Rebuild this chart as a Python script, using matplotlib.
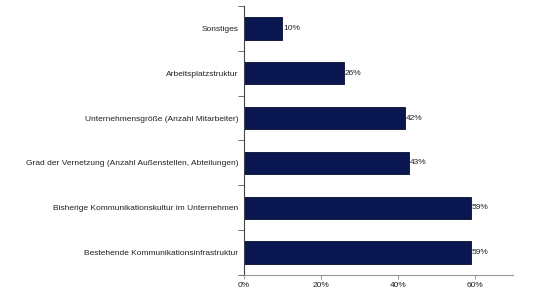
import matplotlib
matplotlib.use("Agg")
import matplotlib.pyplot as plt
from matplotlib import font_manager as fm
from matplotlib.ticker import FuncFormatter, FixedLocator

categories = [
    "Sonstiges",
    "Arbeitsplatzstruktur",
    "Unternehmensgröße (Anzahl Mitarbeiter)",
    "Grad der Vernetzung (Anzahl Außenstellen, Abteilungen)",
    "Bisherige Kommunikationskultur im Unternehmen",
    "Bestehende Kommunikationsinfrastruktur",
]
values = [10, 26, 42, 43, 59, 59]
xticks = [0, 20, 40, 60]

path = None
for f in fm.findSystemFonts():
    if f.endswith("LiberationSans-Regular.ttf"):
        path = f
        break
if path:
    fm.fontManager.addfont(path)
    fp = fm.FontProperties(fname=path, size=6.0)
else:
    fp = fm.FontProperties(family="DejaVu Sans", size=6.0)

fig = plt.figure(figsize=(5.4, 2.96), dpi=100)
ax = fig.add_axes([0.452, 0.071, 0.498, 0.909])

y = list(range(len(categories)))
ax.barh(y, values, height=0.5, color="#0a1650", edgecolor="#050d2e", linewidth=0.6)
ax.set_ylim(len(categories) - 0.5, -0.5)
ax.set_xlim(0, 70)

ax.set_yticks(y)
ax.set_yticklabels(categories, color="#222222")
for t in ax.get_yticklabels():
    t.set_fontproperties(fp)
ax.tick_params(axis='y', which='major', length=0, pad=4)
ax.yaxis.set_minor_locator(FixedLocator([i - 0.5 for i in range(len(categories) + 1)]))
ax.tick_params(axis='y', which='minor', length=4, color="#555555", width=0.6)

ax.xaxis.set_major_locator(FixedLocator(xticks))
ax.xaxis.set_major_formatter(FuncFormatter(lambda v, p: f"{int(v)}%"))
ax.tick_params(axis='x', length=3, color="#888888", width=0.6, labelcolor="#222222", pad=2)
for t in ax.get_xticklabels():
    t.set_fontproperties(fp)

for yi, v in zip(y, values):
    ax.text(v + 0.2, yi, f"{v}%", va='center', ha='left', fontproperties=fp, color="#222222")

for s in ['top', 'right']:
    ax.spines[s].set_visible(False)
ax.spines['left'].set_color("#444444")
ax.spines['left'].set_linewidth(0.8)
ax.spines['bottom'].set_color("#999999")
ax.spines['bottom'].set_linewidth(0.8)

fig.savefig("out.png", dpi=100)
